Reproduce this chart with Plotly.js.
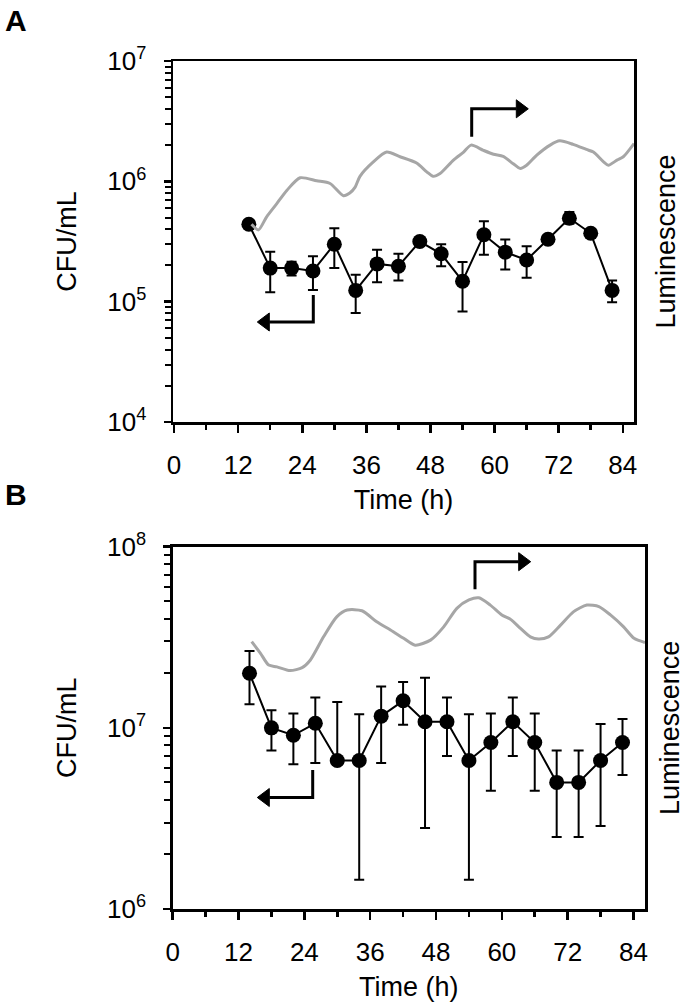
<!DOCTYPE html>
<html>
<head>
<meta charset="utf-8">
<script src="https://cdn.plot.ly/plotly-3.0.1.min.js"></script>
<style>html,body{margin:0;padding:0;background:#fff;}#chart{width:685px;height:1004px;}</style>
</head>
<body>
<div id="chart"></div>
<script>
// ---------- Data ----------
const timeA = [14, 18, 22, 26, 30, 34, 38, 42, 46, 50, 54, 58, 62, 66, 70, 74, 78, 82];
const cfuA   = [4.4e5, 1.9e5, 1.9e5, 1.8e5, 3.0e5, 1.24e5, 2.06e5, 1.97e5, 3.16e5, 2.5e5, 1.48e5, 3.6e5, 2.58e5, 2.22e5, 3.3e5, 4.94e5, 3.7e5, 1.24e5];
const cfuAHi = [4.4e5, 2.6e5, 2.15e5, 2.39e5, 4.08e5, 1.67e5, 2.7e5, 2.5e5, 3.3e5, 3.0e5, 2.14e5, 4.67e5, 3.29e5, 2.89e5, 3.45e5, 5.55e5, 4.0e5, 1.5e5];
const cfuALo = [4.4e5, 1.2e5, 1.65e5, 1.25e5, 1.9e5, 8.05e4, 1.45e5, 1.5e5, 3.0e5, 1.97e5, 8.3e4, 2.45e5, 1.85e5, 1.58e5, 3.15e5, 4.44e5, 3.4e5, 9.9e4];

const lumTimeA = [14.5, 15.8, 17.3, 19.2, 21.1, 23.6, 26.7, 29.2, 31.7, 32.9, 33.9, 34.8, 37.3, 39.8, 42.3, 45.4, 47.3, 48.5, 49.8, 52.3, 54.2, 55.6, 57.9, 59.8, 61.6, 63.5, 64.8, 66.0, 67.9, 70.4, 72.2, 74.7, 77.2, 78.5, 80.4, 81.3, 82.9, 84.1, 86.1];
const lumA = [4.4e5, 3.95e5, 5.05e5, 6.5e5, 8.4e5, 1.07e6, 1.01e6, 9.6e5, 7.6e5, 8.0e5, 8.95e5, 1.1e6, 1.45e6, 1.75e6, 1.6e6, 1.42e6, 1.2e6, 1.1e6, 1.16e6, 1.5e6, 1.75e6, 2.0e6, 1.81e6, 1.68e6, 1.61e6, 1.4e6, 1.28e6, 1.36e6, 1.65e6, 2.0e6, 2.17e6, 2.03e6, 1.84e6, 1.75e6, 1.45e6, 1.36e6, 1.5e6, 1.6e6, 2.06e6];

const timeB = [14, 18, 22, 26, 30, 34, 38, 42, 46, 50, 54, 58, 62, 66, 70, 74, 78, 82];
const cfuB   = [2.0e7, 1.0e7, 9.1e6, 1.06e7, 6.6e6, 6.6e6, 1.16e7, 1.41e7, 1.08e7, 1.08e7, 6.6e6, 8.3e6, 1.08e7, 8.3e6, 5.0e6, 5.0e6, 6.6e6, 8.3e6];
const cfuBHi = [2.66e7, 1.25e7, 1.2e7, 1.47e7, 1.39e7, 1.19e7, 1.69e7, 1.79e7, 1.89e7, 1.47e7, 1.19e7, 1.2e7, 1.47e7, 1.2e7, 7.5e6, 7.5e6, 1.05e7, 1.12e7];
const cfuBLo = [1.35e7, 7.5e6, 6.3e6, 6.4e6, 6.6e6, 1.45e6, 6.4e6, 1.04e7, 2.8e6, 7.0e6, 1.45e6, 4.5e6, 7.0e6, 4.5e6, 2.5e6, 2.5e6, 2.87e6, 5.5e6];

const lumTimeB = [14.4, 16.0, 17.5, 19.0, 21.4, 23.6, 25.1, 27.5, 29.9, 31.8, 34.5, 37.2, 39.7, 42.1, 44.2, 47.0, 49.4, 51.8, 54.0, 55.8, 57.9, 60.0, 61.6, 63.4, 65.2, 66.7, 68.5, 70.7, 73.1, 75.5, 77.7, 79.8, 82.2, 84.1, 86.1];
const lumB = [2.99e7, 2.58e7, 2.22e7, 2.17e7, 2.07e7, 2.15e7, 2.37e7, 3.18e7, 4.1e7, 4.47e7, 4.43e7, 3.85e7, 3.47e7, 3.12e7, 2.86e7, 3.05e7, 3.61e7, 4.57e7, 5.08e7, 5.22e7, 4.76e7, 4.2e7, 3.97e7, 3.54e7, 3.18e7, 3.09e7, 3.18e7, 3.69e7, 4.38e7, 4.76e7, 4.67e7, 4.2e7, 3.61e7, 3.12e7, 2.96e7];

const xTickVals = [0, 12, 24, 36, 48, 60, 72, 84];
const xTickText = ['0', '12', '24', '36', '48', '60', '72', '84'];
const xMinorVals = [6, 18, 30, 42, 54, 66, 78];
const yTickValsA = [1e4, 1e5, 1e6, 1e7];
const yTickTextA = ['10<sup>4</sup>', '10<sup>5</sup>', '10<sup>6</sup>', '10<sup>7</sup>'];
const yTickValsB = [1e6, 1e7, 1e8];
const yTickTextB = ['10<sup>6</sup>', '10<sup>7</sup>', '10<sup>8</sup>'];
const xTitle = 'Time (h)';
const yTitle = 'CFU/mL';
const y2Title = 'Luminescence';
const panelLabels = ['A', 'B'];

// ---------- helpers ----------
function minorLog(lo, hi) {
  const out = [];
  for (let e = lo; e < hi; e++) for (let m = 2; m <= 9; m++) out.push(m * Math.pow(10, e));
  return out;
}
const W = 685, H = 1004;
const FONT = 'Liberation Sans, Arial, Helvetica, sans-serif';
const LW = 2.5;
const diff = (a, b) => a.map((v, i) => v - b[i]);
const px = x => (x / W).toFixed(5);
const py = y => (1 - y / H).toFixed(5);

function cfuTrace(x, y, hi, lo, xa, ya) {
  return {
    x: x, y: y, xaxis: xa, yaxis: ya, type: 'scatter', mode: 'lines+markers',
    line: {color: '#000', width: 2},
    marker: {color: '#000', size: 15},
    error_y: {type: 'data', symmetric: false, array: diff(hi, y), arrayminus: diff(y, lo),
              color: '#000', thickness: 2, width: 5},
    hoverinfo: 'x+y'
  };
}
function lumTrace(x, y, xa, ya) {
  return {x: x, y: y, xaxis: xa, yaxis: ya, type: 'scatter', mode: 'lines',
          line: {color: '#a6a6a6', width: 3, shape: 'spline', smoothing: 0.7}, hoverinfo: 'skip'};
}

const data = [
  cfuTrace(timeA, cfuA, cfuAHi, cfuALo, 'x', 'y'),
  lumTrace(lumTimeA, lumA, 'x', 'y2'),
  cfuTrace(timeB, cfuB, cfuBHi, cfuBLo, 'x2', 'y4'),
  lumTrace(lumTimeB, lumB, 'x2', 'y5')
];

function xAxis(domain, range, anchor) {
  return {
    domain: domain, range: range, anchor: anchor,
    tickmode: 'array', tickvals: xTickVals, ticktext: xTickText,
    ticks: 'outside', ticklen: 8, tickwidth: LW, tickcolor: '#000',
    minor: {tickmode: 'array', tickvals: xMinorVals, ticks: 'outside', ticklen: 5, tickwidth: LW, tickcolor: '#000'},
    ticklabelstandoff: 10,
    showline: true, linecolor: '#000', linewidth: LW, mirror: true,
    showgrid: false, zeroline: false,
    tickfont: {family: FONT, size: 26, color: '#000'},
    title: {text: xTitle, font: {family: FONT, size: 27, color: '#000'}, standoff: 12}
  };
}
function xInside(over, range, anchor) {
  return {overlaying: over, anchor: anchor, range: range, tickmode: 'array', tickvals: xTickVals,
          ticks: 'inside', ticklen: 8, tickwidth: LW, tickcolor: '#000', showticklabels: false,
          showline: false, showgrid: false, zeroline: false};
}
function yAxis(domain, range, anchor, tv, tt) {
  return {
    domain: domain, type: 'log', range: range, anchor: anchor,
    tickmode: 'array', tickvals: tv, ticktext: tt,
    ticks: 'outside', ticklen: 7, tickwidth: LW, tickcolor: '#000',
    minor: {tickmode: 'array', tickvals: minorLog(range[0], range[1]), ticks: 'outside', ticklen: 6, tickwidth: 2, tickcolor: '#000'},
    ticklabelstandoff: 12,
    showline: true, linecolor: '#000', linewidth: LW, mirror: true,
    showgrid: false, zeroline: false,
    tickfont: {family: FONT, size: 26, color: '#000'},
    title: {text: yTitle, font: {family: FONT, size: 27, color: '#000'}, standoff: 23}
  };
}
function yInside(over, range, anchor, tv) {
  return {overlaying: over, anchor: anchor, type: 'log', range: range, side: 'left',
          tickmode: 'array', tickvals: tv, ticks: 'inside', ticklen: 7, tickwidth: LW, tickcolor: '#000',
          showticklabels: false, showline: false, showgrid: false, zeroline: false};
}
function yLum(over, range, anchor, standoff) {
  return {overlaying: over, anchor: anchor, side: 'right', type: 'log', range: range,
          showticklabels: false, ticks: '', showline: false, showgrid: false, zeroline: false,
          title: {text: y2Title, font: {family: FONT, size: 27, color: '#000'}, standoff: standoff}};
}

// Bent arrows (decorations) in pixel positions -> paper coords
function bentArrow(xv, yStart, yBend, xTip, dir) {
  const base = xTip - dir * 12;
  return [
    {type: 'path', xref: 'paper', yref: 'paper',
     path: `M${px(xv)},${py(yStart)} L${px(xv)},${py(yBend)} L${px(base)},${py(yBend)}`,
     line: {color: '#000', width: 3}},
    {type: 'path', xref: 'paper', yref: 'paper',
     path: `M${px(base)},${py(yBend - 9)} L${px(xTip)},${py(yBend)} L${px(base)},${py(yBend + 9)} Z`,
     fillcolor: '#000', line: {color: '#000', width: 1}}
  ];
}

const rA = [-0.2, 86.1], rB = [0, 86.1];

const layout = {
  width: W, height: H,
  margin: {l: 0, r: 0, t: 0, b: 0},
  paper_bgcolor: '#fff', plot_bgcolor: 'rgba(0,0,0,0)',
  showlegend: false,
  font: {family: FONT, color: '#000'},
  xaxis: xAxis([173/W, 634/W], rA, 'y'),
  yaxis: yAxis([1 - 422/H, 1 - 61/H], [4, 7], 'x', yTickValsA, yTickTextA),
  yaxis2: yLum('y', [4, 7], 'x', 22),
  xaxis3: xInside('x', rA, 'y'),
  yaxis3: yInside('y', [4, 7], 'x', yTickValsA),
  xaxis2: xAxis([172.7/W, 645/W], rB, 'y4'),
  yaxis4: yAxis([1 - 909/H, 1 - 546.7/H], [6, 8], 'x2', yTickValsB, yTickTextB),
  yaxis5: yLum('y4', [6, 8], 'x2', 21),
  xaxis4: xInside('x2', rB, 'y4'),
  yaxis6: yInside('y4', [6, 8], 'x2', yTickValsB),
  shapes: [].concat(
    bentArrow(471.7, 136.7, 108.8, 528.3, 1),
    bentArrow(313.3, 295, 322, 257.3, -1),
    bentArrow(475, 589.3, 561.7, 530.7, 1),
    bentArrow(312.7, 770, 797.5, 257.3, -1)
  ),
  annotations: [
    {xref: 'paper', yref: 'paper', x: 3/W, y: 1 - 21/H, xanchor: 'left', yanchor: 'middle', showarrow: false,
     text: '<b>' + panelLabels[0] + '</b>', font: {family: FONT, size: 30, color: '#000'}},
    {xref: 'paper', yref: 'paper', x: 3/W, y: 1 - 494/H, xanchor: 'left', yanchor: 'middle', showarrow: false,
     text: '<b>' + panelLabels[1] + '</b>', font: {family: FONT, size: 30, color: '#000'}}
  ]
};

Plotly.newPlot('chart', data, layout, {displayModeBar: false, staticPlot: true});
</script>
</body>
</html>
